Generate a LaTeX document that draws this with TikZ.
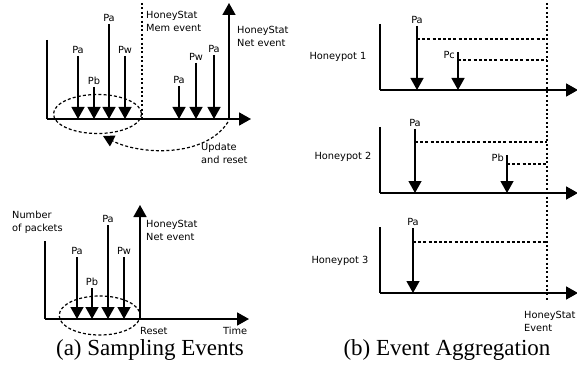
\documentclass[tikz,border=0pt]{standalone}
\usepackage{fontspec}
\setmainfont{Liberation Serif}
\newfontfamily\labelfont{DejaVu Sans}
\usetikzlibrary{arrows.meta}

\tikzset{
  lbl/.style={font=\labelfont\fontsize{9.8}{13}\selectfont, inner sep=1pt, align=left},
  pkt/.style={line width=1.3pt, -{Triangle[width=13pt,length=12pt]}},
  axis/.style={line width=1.8pt},
  tline/.style={line width=1.8pt, -{Triangle[width=13pt,length=12pt]}},
  evline/.style={line width=1.3pt, dash pattern=on 2pt off 2.4pt},
  waitline/.style={line width=1.2pt, dash pattern=on 3pt off 2.2pt},
  group/.style={line width=1.2pt, dash pattern=on 3pt off 2.2pt},
  caption/.style={font=\fontsize{23}{26}\selectfont, inner sep=0pt}
}

\begin{document}
\begin{tikzpicture}[x=1pt, y=-1pt]
  %%%%% START %%%%%
  \useasboundingbox (0,0) rectangle (577,374);

  %% (a) top: memory event
  \coordinate (o1) at (47,119);
  \draw[axis] (47,40) -- (o1);
  \draw[tline] (o1) -- (251,119);
  \foreach \x/\t/\lab [count=\i] in {78/56/Pa, 94/87/Pb, 109/24/Pa, 125/56/Pw, 179/86/Pa, 196/63/Pw, 214/55/Pa}{
    \node[lbl, anchor=south] (ta\i) at (\x,\t-1.5) {\lab};
    \draw[pkt] (\x,\t) -- (\x,119);
  }
  \draw[evline] (142,3) -- (142,119);
  \node[lbl, anchor=north west] (mem) at (145,10.5) {HoneyStat\\Mem event};
  \coordinate (net1) at (229,119);
  \draw[pkt, line width=1.6pt] (net1) -- (229,3);
  \node[lbl, anchor=north west] (netA) at (236,25) {HoneyStat\\Net event};
  \draw[group] (97.5,114) ellipse [x radius=44, y radius=19.5];
  \draw[group, -{Triangle[width=12pt,length=11pt]}] (228,122) .. controls (205,158) and (140,155) .. (103,136);
  \node[lbl, anchor=north west] (upd) at (200,142) {Update\\and reset};

  %% (a) bottom: network event
  \coordinate (o2) at (45,319);
  \draw[axis] (45,241) -- (o2);
  \draw[tline] (o2) -- (249,319);
  \foreach \x/\t/\lab [count=\i] in {77/257/Pa, 92/288/Pb, 108/225/Pa, 124/257/Pw}{
    \node[lbl, anchor=south] (tb\i) at (\x,\t-1.5) {\lab};
    \draw[pkt] (\x,\t) -- (\x,319);
  }
  \draw[pkt, line width=1.6pt] (140,319) -- (140,205);
  \node[lbl, anchor=north west] (netB) at (145,219) {HoneyStat\\Net event};
  \node[lbl, anchor=north west] (npk) at (11,210) {Number\\of packets};
  \draw[group] (99.7,315.5) ellipse [x radius=40.5, y radius=19.5];
  \node[lbl, anchor=west] (rst) at (139,331) {Reset};
  \node[lbl, anchor=west] (tim) at (222,331) {Time};

  %% (b) aggregation
  \foreach \top/\bot/\name in {24/90/Honeypot 1, 127/193/Honeypot 2, 227/293/Honeypot 3}{
    \draw[axis] (380,\top) -- (380,\bot);
    \draw[tline] (380,\bot) -- (578,\bot);
  }
  \node[lbl] (hp1) at (338,57) {Honeypot 1};
  \node[lbl] (hp2) at (343,157) {Honeypot 2};
  \node[lbl] (hp3) at (340,261) {Honeypot 3};
  \draw[evline] (547,3) -- (547,300);

  \foreach \x/\t/\bot/\d [count=\i] in {417/26/90/39, 415/129/193/142, 413/228/293/242}{
    \node[lbl, anchor=south] (pa\i) at (\x,\t-1.5) {Pa};
    \draw[pkt] (\x,\t) -- (\x,\bot);
    \draw[waitline] (\x,\d) -- (547,\d);
  }
  \node[lbl, anchor=east] (pc) at (456,55) {Pc};
  \draw[pkt] (458,52) -- (458,90);
  \draw[waitline] (458,60) -- (547,60);
  \node[lbl, anchor=east] (pb) at (505,158) {Pb};
  \draw[pkt] (507,155) -- (507,193);
  \draw[waitline] (507,164) -- (547,164);
  \node[lbl, anchor=north west] (hse) at (523,310) {HoneyStat\\Event};

  %% captions
  \node[caption] (capa) at (150,350) {(a) Sampling Events};
  \node[caption] (capb) at (447,350) {(b) Event Aggregation};
  %%%%% END %%%%%
\end{tikzpicture}
\end{document}
